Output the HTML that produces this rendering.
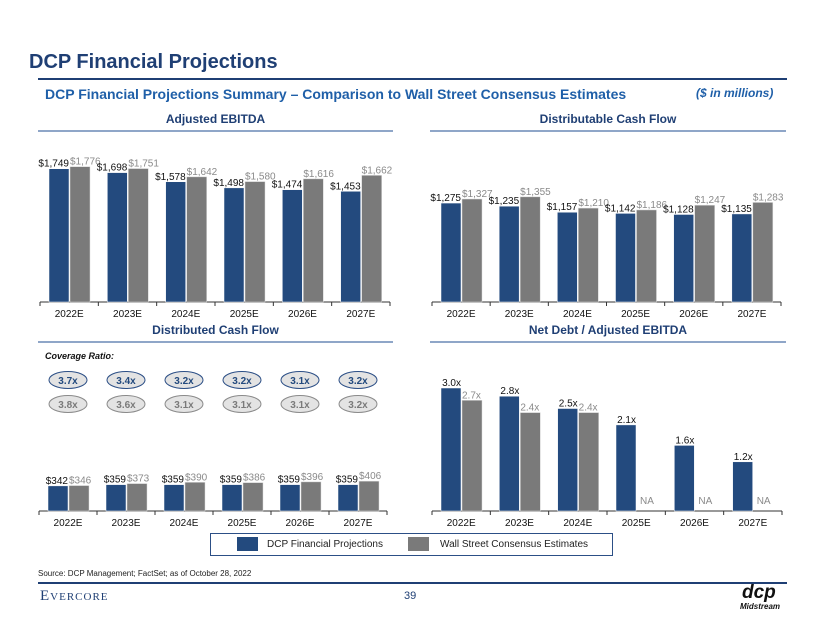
<!DOCTYPE html>
<html><head><meta charset="utf-8"><style>
body{margin:0;width:820px;height:634px;background:#fff;overflow:hidden;font-family:"Liberation Sans",Arial,sans-serif;position:relative}
.a{position:absolute;white-space:nowrap}
</style></head><body>
<div class="a" style="left:29px;top:51px;font-size:20px;font-weight:bold;color:#1f3f74">DCP Financial Projections</div>
<div class="a" style="left:38px;top:78px;width:749px;height:2px;background:#1f3f74"></div>
<div class="a" style="left:45px;top:86px;font-size:14px;font-weight:bold;color:#1f5fa8">DCP Financial Projections Summary – Comparison to Wall Street Consensus Estimates</div>
<div class="a" style="left:696px;top:86px;font-size:12px;font-weight:bold;font-style:italic;color:#1f5fa8">($ in millions)</div>
<svg id="c" width="820" height="634" style="position:absolute;left:0;top:0"></svg>
<div class="a" style="left:210px;top:533px;width:401px;height:21px;border:1px solid #2c4f86"></div>
<div class="a" style="left:237px;top:537px;width:21px;height:14px;background:#234a7e"></div>
<div class="a" style="left:267px;top:539px;font-size:10px;color:#222">DCP Financial Projections</div>
<div class="a" style="left:408px;top:537px;width:21px;height:14px;background:#7a7a7a"></div>
<div class="a" style="left:440px;top:539px;font-size:10px;color:#222">Wall Street Consensus Estimates</div>
<div class="a" style="left:38px;top:569px;font-size:8px;color:#222">Source: DCP Management; FactSet; as of October 28, 2022</div>
<div class="a" style="left:38px;top:582px;width:749px;height:2px;background:#1f3f74"></div>
<div class="a" style="left:40px;top:588px;font-family:'Liberation Serif',serif;font-size:15px;color:#1f3f74;letter-spacing:1px">E<span style="font-size:11px">VERCORE</span></div>
<div class="a" style="left:404px;top:590px;font-size:11px;color:#1f3f74">39</div>
<div class="a" style="left:742px;top:584px;font-size:19px;font-weight:bold;font-style:italic;color:#111;line-height:18px">dcp</div>
<div class="a" style="left:740px;top:602px;font-size:8px;font-weight:bold;font-style:italic;color:#111">Midstream</div>
<script>
const years=["2022E","2023E","2024E","2025E","2026E","2027E"];
const ebitdaDcp=[1749,1698,1578,1498,1474,1453];
const ebitdaStreet=[1776,1751,1642,1580,1616,1662];
const dcfDcp=[1275,1235,1157,1142,1128,1135];
const dcfStreet=[1327,1355,1210,1186,1247,1283];
const distDcp=[342,359,359,359,359,359];
const distStreet=[346,373,390,386,396,406];
const covDcp=["3.7x","3.4x","3.2x","3.2x","3.1x","3.2x"];
const covStreet=["3.8x","3.6x","3.1x","3.1x","3.1x","3.2x"];
const levDcp=[3.0,2.8,2.5,2.1,1.6,1.2];
const levStreet=[2.7,2.4,2.4,null,null,null];

const svg=document.getElementById('c');const NS='http://www.w3.org/2000/svg';
function el(t,a,txt){const e=document.createElementNS(NS,t);for(const k in a)e.setAttribute(k,a[k]);if(txt!==undefined)e.textContent=txt;svg.appendChild(e);return e;}
function section(x,w,y,title,name){
 const t=el('text',{x:x+w/2,y:y,'text-anchor':'middle','font-size':12,'font-weight':'bold',fill:'#1f3f74'},title);
 
 const l=el('rect',{x:x,y:y+7,width:w,height:2,fill:'#8fa6c8'});
 
}
section(38,355,123,'Adjusted EBITDA','ebitda');
section(430,356,123,'Distributable Cash Flow','dcf');
section(38,355,334,'Distributed Cash Flow','distributed');
section(430,356,334,'Net Debt / Adjusted EBITDA','leverage');

function chart(o){
 const pitch=(o.x1-o.x0)/6;
 const ax=el('line',{x1:o.x0,y1:o.base,x2:o.x1,y2:o.base,stroke:'#333','stroke-width':1});
 
 for(let i=0;i<=6;i++){const tk=el('line',{x1:o.x0+i*pitch,y1:o.base,x2:o.x0+i*pitch,y2:o.base+4,stroke:'#333'});
  }
 years.forEach((yr,i)=>{
  const gx=o.x0+i*pitch;const bx=gx+9;
  const lb=el('text',{x:gx+pitch/2,y:o.base+15,'text-anchor':'middle','font-size':10,fill:'#111'},yr);
  
  const v1=o.a[i],h1=v1*o.s;
  const b1=el('rect',{x:bx,y:o.base-h1,width:20,height:h1,fill:'#234a7e',stroke:'#fff','stroke-width':0.5});
  
  const t1=el('text',{x:bx+20,y:o.base-h1-2,'text-anchor':'end','font-size':10,fill:'#111'},o.f(v1));
  
  const v2=o.b[i];
  if(v2===null){const na=el('text',{x:bx+31,y:o.base-7,'text-anchor':'middle','font-size':10,fill:'#8a8a8a'},'NA');
   return;}
  const h2=v2*o.s;
  const b2=el('rect',{x:bx+21,y:o.base-h2,width:20,height:h2,fill:'#7a7a7a',stroke:'#ddd','stroke-width':0.5});
  
  const t2=el('text',{x:bx+21,y:o.base-h2-2,'text-anchor':'start','font-size':10,fill:'#8a8a8a'},o.f(v2));
  
 });
}
const money=v=>'$'+v.toLocaleString('en-US');
chart({name:'ebitda',x0:40,x1:390,base:302,s:0.0762,a:ebitdaDcp,b:ebitdaStreet,f:money});
chart({name:'dcf',x0:432,x1:781,base:302,s:0.0776,a:dcfDcp,b:dcfStreet,f:money});
chart({name:'distributed',x0:39,x1:387,base:511,s:0.0735,a:distDcp,b:distStreet,f:money});
chart({name:'leverage',x0:432,x1:782,base:511,s:41,a:levDcp,b:levStreet,f:v=>v.toFixed(1)+'x'});

const cr=el('text',{x:45,y:359,'font-size':9,'font-weight':'bold','font-style':'italic',fill:'#111'},'Coverage Ratio:');

years.forEach((y,i)=>{
 const cx=68+i*58;
 const e1=el('ellipse',{cx:cx,cy:380,rx:19,ry:8.5,fill:'#e3e3e3',stroke:'#2c4f86','stroke-width':1});
 
 const t1=el('text',{x:cx,y:384,'text-anchor':'middle','font-size':10,'font-weight':'bold',fill:'#234a7e'},covDcp[i]);
 
 const e2=el('ellipse',{cx:cx,cy:404,rx:19,ry:8.5,fill:'#e3e3e3',stroke:'#8a8a8a','stroke-width':1});
 
 const t2=el('text',{x:cx,y:408,'text-anchor':'middle','font-size':10,'font-weight':'bold',fill:'#7a7a7a'},covStreet[i]);
 
});
</script>
</body></html>
